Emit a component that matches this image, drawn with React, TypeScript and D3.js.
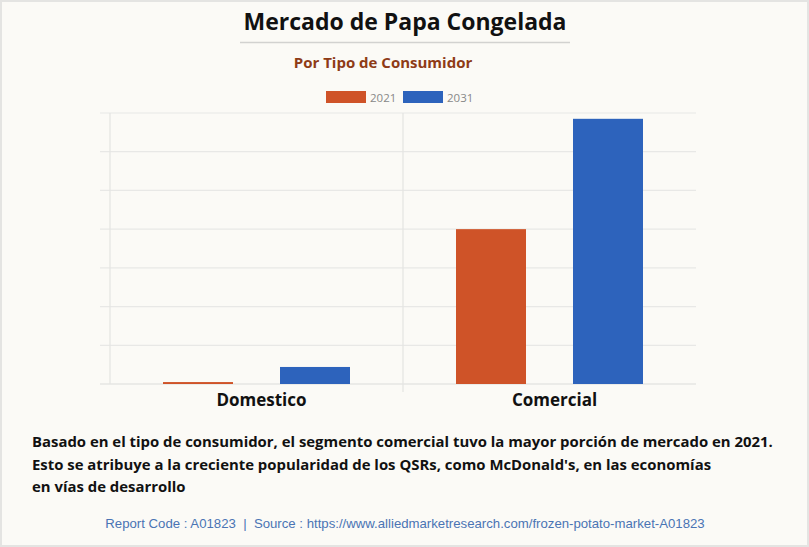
import React from "react";
import * as d3 from "d3";

const categories = ["Domestico", "Comercial"];
const seriesKeys = ["2021", "2031"];
const values2021 = [0.05, 4.0];
const values2031 = [0.44, 6.85];
const gridTicks = [0, 1, 2, 3, 4, 5, 6, 7];
const seriesColors = ["#cf5328", "#2d63bc"];
const descriptionLines = [
  "Basado en el tipo de consumidor, el segmento comercial tuvo la mayor porción de mercado en 2021.",
  "Esto se atribuye a la creciente popularidad de los QSRs, como McDonald's, en las economías",
  "en vías de desarrollo",
];

const W = 809;
const H = 547;
const font = "'Open Sans', 'Noto Sans', sans-serif";

export default function App() {
  const x0 = d3.scaleBand<string>().domain(categories).range([110, 696]).padding(0);
  const x1 = d3
    .scaleBand<string>()
    .domain(seriesKeys)
    .range([0, x0.bandwidth()])
    .paddingInner(0.4017)
    .paddingOuter(0.453);
  const y = d3.scaleLinear().domain([0, 7]).range([384, 113]);
  const seriesValues = [values2021, values2031];

  return (
    <div style={{ position: "absolute", left: 0, top: 0 }}>
      <svg width={W} height={H} style={{ display: "block" }}>
        <rect x={0} y={0} width={W} height={H} fill="#fbfaf6" />
        <rect x={1} y={1} width={W - 2} height={H - 2} fill="none" stroke="#e4e4e2" strokeWidth={2} />
        <text x={405} y={30} textAnchor="middle" fontFamily={font} fontWeight={700} fontSize={23} fill="#111">
          Mercado de Papa Congelada
        </text>
        <line x1={240} x2={570} y1={42.5} y2={42.5} stroke="#d2d2d0" strokeWidth={1.5} />
        <text x={383} y={68} textAnchor="middle" fontFamily={font} fontWeight={700} fontSize={15} fill="#8e3b16">
          Por Tipo de Consumidor
        </text>
        {/* legend */}
        {seriesKeys.map((k, i) => (
          <g key={k} transform={`translate(${326 + i * 77},91)`}>
            <rect width={40} height={12} fill={seriesColors[i]} />
            <text x={44} y={10.5} fontFamily={font} fontSize={11.5} fill="#888">
              {k}
            </text>
          </g>
        ))}
        {/* gridlines */}
        {gridTicks.map((t) => (
          <line key={t} x1={100} x2={696} y1={y(t)} y2={y(t)} stroke={t === 0 ? "#dcdcda" : "#e8e8e6"} strokeWidth={1.2} />
        ))}
        <line x1={110} x2={110} y1={113} y2={384} stroke="#e4e4e2" strokeWidth={1.2} />
        <line x1={403} x2={403} y1={113} y2={392} stroke="#e4e4e2" strokeWidth={1.2} />
        {/* bars */}
        {categories.map((c, ci) => (
          <g key={c} transform={`translate(${x0(c)},0)`}>
            {seriesKeys.map((k, si) => {
              const v = seriesValues[si][ci];
              return (
                <rect
                  key={k}
                  x={x1(k)}
                  y={y(v)}
                  width={x1.bandwidth()}
                  height={y(0) - y(v)}
                  fill={seriesColors[si]}
                />
              );
            })}
            <text
              x={x0.bandwidth() / 2 + 5}
              y={406}
              textAnchor="middle"
              fontFamily={font}
              fontWeight={700}
              fontSize={17}
              fill="#111"
            >
              {c}
            </text>
          </g>
        ))}
        {/* description */}
        {descriptionLines.map((l, i) => (
          <text key={i} x={32} y={447 + i * 22.5} fontFamily={font} fontWeight={700} fontSize={14.9} fill="#111">
            {l}
          </text>
        ))}
        <text
          x={405}
          y={528}
          textAnchor="middle"
          fontFamily="'Liberation Sans', Arial, sans-serif"
          fontSize={13.2}
          fill="#4a74b4"
          style={{ whiteSpace: "pre" }}
        >
          {"Report Code : A01823  |  Source : https://www.alliedmarketresearch.com/frozen-potato-market-A01823"}
        </text>
      </svg>
    </div>
  );
}
